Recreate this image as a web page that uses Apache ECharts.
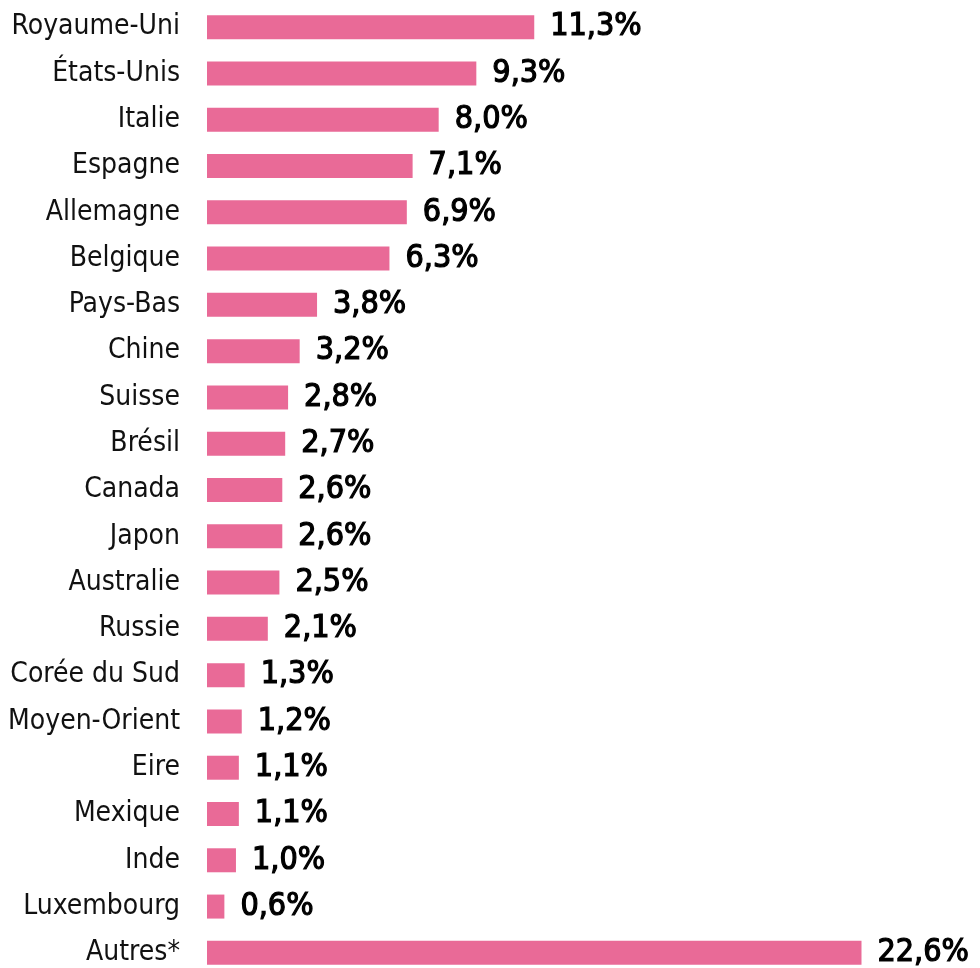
<!DOCTYPE html>
<html>
<head>
<meta charset="utf-8">
<script src="https://cdn.jsdelivr.net/npm/echarts@6/dist/echarts.min.js"></script>
<style>
  html, body { margin: 0; padding: 0; background: #fff; overflow: hidden; }
  /* a little taller than the window so the last row reaches the bottom edge */
  #chart { width: 980px; height: 976px; }
</style>
</head>
<body>
<div id="chart"></div>
<script>
const countries = [
  'Royaume-Uni', 'États-Unis', 'Italie', 'Espagne', 'Allemagne', 'Belgique',
  'Pays-Bas', 'Chine', 'Suisse', 'Brésil', 'Canada', 'Japon', 'Australie',
  'Russie', 'Corée du Sud', 'Moyen-Orient', 'Eire', 'Mexique', 'Inde',
  'Luxembourg', 'Autres*'
]

const shares = [
  11.3, 9.3, 8.0, 7.1, 6.9, 6.3, 3.8, 3.2, 2.8, 2.7, 2.6, 2.6, 2.5,
  2.1, 1.3, 1.2, 1.1, 1.1, 1.0, 0.6, 22.6
]

const pink = '#e96a97'
const font = '"DejaVu Sans Condensed", "Liberation Sans Narrow", sans-serif'

const chart = echarts.init(document.getElementById('chart'))

const option = {
  backgroundColor: '#fff',
  animation: false,

  grid: {
    left: 207,
    right: 49,
    top: 4,
    bottom: 0
  },

  xAxis: {
    type: 'value',
    min: 0,
    max: 25,
    show: false
  },

  yAxis: {
    type: 'category',
    inverse: true,
    data: countries,
    axisLine: { show: false },
    axisTick: { show: false },
    axisLabel: {
      margin: 27,
      color: '#111',
      fontFamily: font,
      fontSize: 28
    }
  },

  series: [
    {
      type: 'bar',
      data: shares,
      barWidth: 24,
      itemStyle: { color: pink },
      label: {
        show: true,
        position: 'right',
        distance: 16,
        color: '#000',
        fontFamily: font,
        fontSize: 32,
        textBorderColor: '#000',
        textBorderWidth: 1.2,
        formatter: p => p.value.toFixed(1).replace('.', ',') + '%'
      }
    }
  ]
}

chart.setOption(option)
</script>
</body>
</html>
